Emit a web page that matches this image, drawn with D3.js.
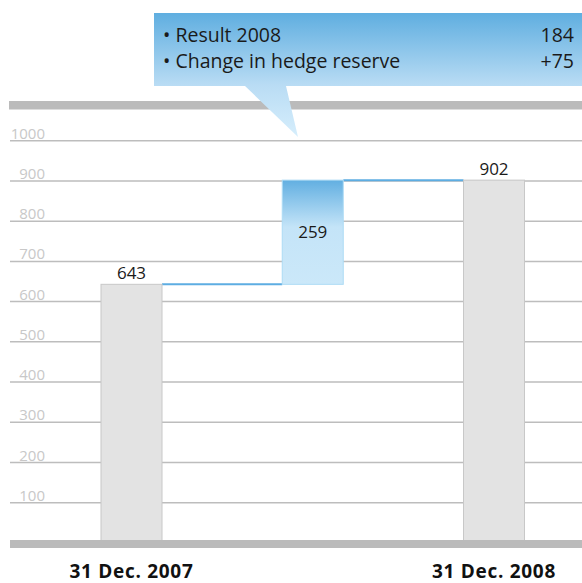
<!DOCTYPE html>
<html>
<head>
<meta charset="utf-8">
<script src="https://cdn.jsdelivr.net/npm/d3@7"></script>
<style>
  body { margin: 0; background: #fff; }
  text { font-family: "Open Sans", "Noto Sans", sans-serif; }
</style>
</head>
<body>
<div id="vis"></div>
<script>
var width = 582,
	height = 583;

// data
var steps = ["start", "change", "end"];
var stepLabels = ["31 Dec. 2007", "", "31 Dec. 2008"];
var startValue = 643;
var changeValue = 259;
var endValue = 902;
var yTicks = [100, 200, 300, 400, 500, 600, 700, 800, 900, 1000];
var noteItems = ["Result 2008", "Change in hedge reserve"];
var noteValues = ["184", "+75"];

var bars = [
	{ key: steps[0], lo: 0, hi: startValue, label: startValue },
	{ key: steps[1], lo: startValue, hi: startValue + changeValue, label: changeValue },
	{ key: steps[2], lo: 0, hi: endValue, label: endValue }
];

var y = d3.scaleLinear().domain([0, 1000]).range([543, 140.7]),
	x = d3.scalePoint().domain(steps).range([131.5, 494]),
	barW = 61;

var svg = d3.select('#vis')
	.append('svg')
	.attr('width', width)
	.attr('height', height);

var defs = svg.append('defs');

var g1 = defs.append('linearGradient')
	.attr('id', 'deltaFill')
	.attr('x1', 0).attr('y1', 0).attr('x2', 0).attr('y2', 1);
g1.append('stop').attr('offset', '0%').attr('stop-color', '#62afe1');
g1.append('stop').attr('offset', '45%').attr('stop-color', '#c4e4f8');
g1.append('stop').attr('offset', '100%').attr('stop-color', '#cbe8f9');

var g2 = defs.append('linearGradient')
	.attr('id', 'noteFill')
	.attr('gradientUnits', 'userSpaceOnUse')
	.attr('x1', 0).attr('y1', 13).attr('x2', 0).attr('y2', 137);
g2.append('stop').attr('offset', '0%').attr('stop-color', '#5faee0');
g2.append('stop').attr('offset', '58%').attr('stop-color', '#b9dcf4');
g2.append('stop').attr('offset', '100%').attr('stop-color', '#d6eefc');

// gridlines
svg.append('g')
	.selectAll('line')
	.data(yTicks)
	.enter()
	.append('line')
	.attr('x1', 10)
	.attr('x2', width)
	.attr('y1', function(d) { return y(d); })
	.attr('y2', function(d) { return y(d); })
	.style('stroke', '#bdbdbd')
	.style('stroke-width', 1.5);

svg.append('g')
	.selectAll('text')
	.data(yTicks)
	.enter()
	.append('text')
	.attr('x', 45)
	.attr('y', function(d) { return y(d) - 2; })
	.attr('text-anchor', 'end')
	.style('font-size', '15px')
	.style('fill', '#c8c8c8')
	.text(function(d) { return d; });

// top and bottom bands
svg.append('rect')
	.attr('x', 9).attr('y', 101)
	.attr('width', width - 9).attr('height', 8.5)
	.style('fill', '#bbbbbb');

// connectors
svg.append('line')
	.attr('x1', x(steps[0]) + barW / 2).attr('x2', x(steps[1]) - barW / 2)
	.attr('y1', y(startValue)).attr('y2', y(startValue))
	.style('stroke', '#5dade2').style('stroke-width', 2);
svg.append('line')
	.attr('x1', x(steps[1]) + barW / 2).attr('x2', x(steps[2]) - barW / 2)
	.attr('y1', y(endValue)).attr('y2', y(endValue))
	.style('stroke', '#5dade2').style('stroke-width', 2);

// bars
svg.append('g')
	.selectAll('rect')
	.data(bars)
	.enter()
	.append('rect')
	.attr('x', function(d) { return x(d.key) - barW / 2; })
	.attr('y', function(d) { return y(d.hi); })
	.attr('width', barW)
	.attr('height', function(d) { return y(d.lo) - y(d.hi); })
	.style('fill', function(d) { return d.key == "change" ? 'url(#deltaFill)' : '#e3e3e3'; })
	.style('stroke', function(d) { return d.key == "change" ? '#addbf5' : '#c8c8c8'; })
	.style('stroke-width', 1);

svg.append('rect')
	.attr('x', 10).attr('y', 540)
	.attr('width', width - 10).attr('height', 8)
	.style('fill', '#bbbbbb');

// value labels
svg.append('g')
	.selectAll('text')
	.data(bars)
	.enter()
	.append('text')
	.attr('x', function(d) { return x(d.key); })
	.attr('y', function(d) {
		return d.key == "change" ? (y(d.hi) + y(d.lo)) / 2 + 6 : y(d.hi) - 5;
	})
	.attr('text-anchor', 'middle')
	.style('font-size', '17px')
	.style('fill', '#1a1a1a')
	.text(function(d) { return d.label; });

// category labels
svg.append('g')
	.selectAll('text')
	.data(steps)
	.enter()
	.append('text')
	.attr('x', function(d) { return x(d); })
	.attr('y', 578)
	.attr('text-anchor', 'middle')
	.style('font-size', '19px')
	.style('font-weight', 'bold')
	.style('letter-spacing', '0.7px')
	.style('fill', '#111')
	.text(function(d, i) { return stepLabels[i]; });

// callout
svg.append('path')
	.attr('d', 'M154,13 H582 V86 H286 L298,137 L245,86 H154 Z')
	.style('fill', 'url(#noteFill)');

var note = svg.append('g');
note.selectAll('text.item')
	.data(noteItems)
	.enter()
	.append('text')
	.attr('class', 'item')
	.attr('x', 163)
	.attr('y', function(d, i) { return 42 + i * 26; })
	.style('font-size', '19.5px')
	.style('fill', '#1a1a1a')
	.text(function(d) { return '\u2022 ' + d; });

note.selectAll('text.val')
	.data(noteValues)
	.enter()
	.append('text')
	.attr('class', 'val')
	.attr('x', 574)
	.attr('y', function(d, i) { return 42 + i * 26; })
	.attr('text-anchor', 'end')
	.style('font-size', '19.5px')
	.style('fill', '#1a1a1a')
	.text(function(d) { return d; });
</script>
</body>
</html>
